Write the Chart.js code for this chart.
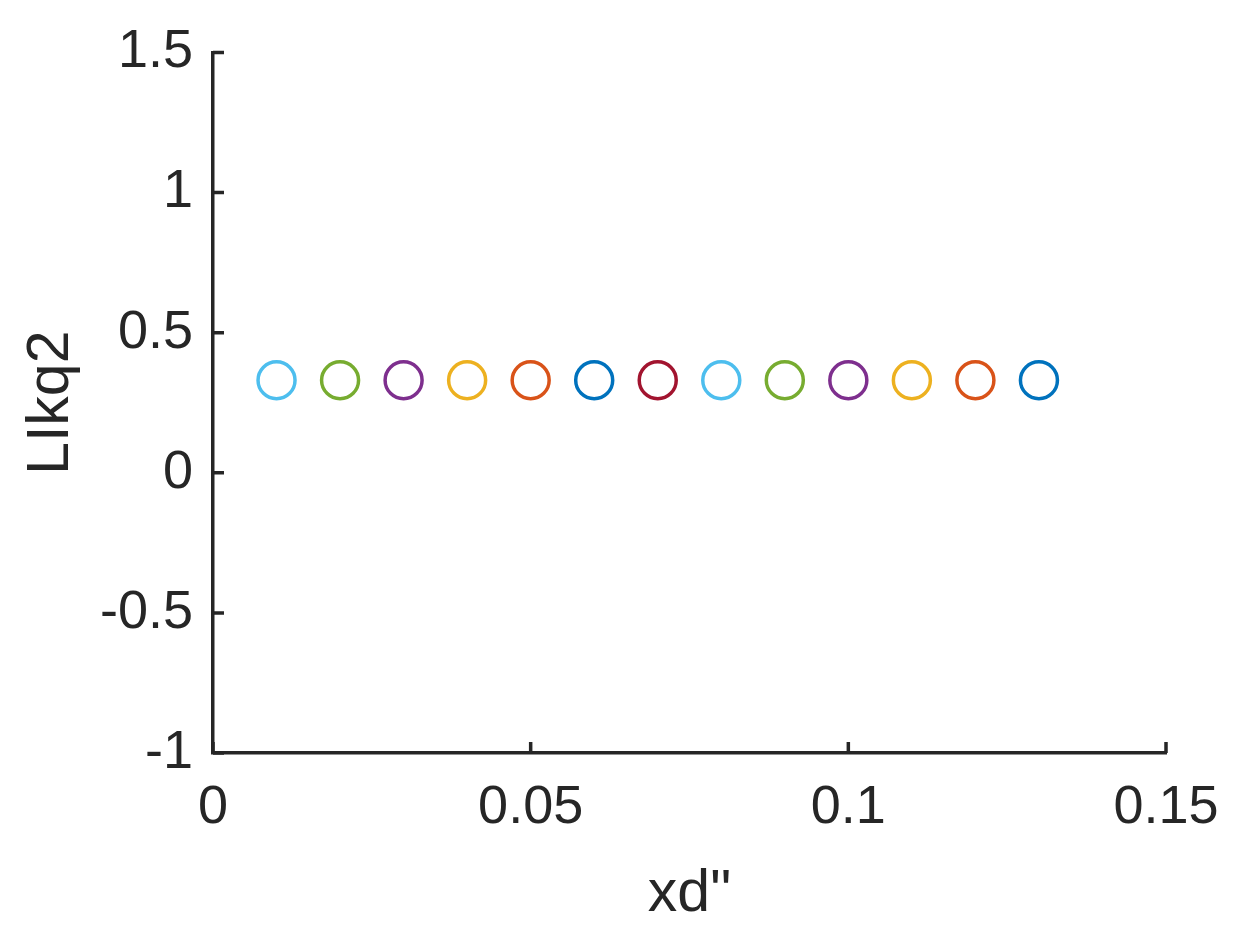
<!DOCTYPE html>
<html>
<head>
<meta charset="utf-8">
<script src="https://cdn.jsdelivr.net/npm/chart.js@4/dist/chart.umd.min.js"></script>
<style>
  html, body { margin: 0; padding: 0; background: #ffffff; }
  #wrap { width: 1248px; height: 943px; }
</style>
</head>
<body>
<div id="wrap"><canvas id="chart"></canvas></div>
<script>
'use strict'

const xdValues = [0.01, 0.02, 0.03, 0.04, 0.05, 0.06, 0.07, 0.08, 0.09, 0.1, 0.11, 0.12, 0.13]
const llkq2Values = [0.33, 0.33, 0.33, 0.33, 0.33, 0.33, 0.33, 0.33, 0.33, 0.33, 0.33, 0.33, 0.33]
const pointColors = [
  '#4DBEEE', '#77AC30', '#7E2F8E', '#EDB120', '#D95319', '#0072BD', '#A2142F',
  '#4DBEEE', '#77AC30', '#7E2F8E', '#EDB120', '#D95319', '#0072BD'
]
const xTicks = [0, 0.05, 0.1, 0.15]
const yTicks = [-1, -0.5, 0, 0.5, 1, 1.5]

const axisColor = '#262626'
const tickFont = { family: 'Liberation Sans, Arial, sans-serif', size: 54 }
const titleFont = { family: 'Liberation Sans, Arial, sans-serif', size: 59 }

// MATLAB style ticks point into the plot
const innerTicks = {
  id: 'innerTicks',
  afterDraw(chart) {
    const { ctx, chartArea, scales } = chart
    const len = 11
    ctx.save()
    ctx.strokeStyle = axisColor
    ctx.lineWidth = 3.5
    ctx.beginPath()
    scales.x.ticks.forEach((t) => {
      const px = scales.x.getPixelForValue(t.value)
      ctx.moveTo(px, chartArea.bottom)
      ctx.lineTo(px, chartArea.bottom - len)
    })
    scales.y.ticks.forEach((t) => {
      const py = scales.y.getPixelForValue(t.value)
      ctx.moveTo(chartArea.left, py)
      ctx.lineTo(chartArea.left + len, py)
    })
    ctx.stroke()
    ctx.restore()
  }
}

new Chart(document.getElementById('chart'), {
  type: 'scatter',
  data: {
    datasets: [{
      label: 'LIkq2',
      data: xdValues.map((x, i) => ({ x: x, y: llkq2Values[i] })),
      pointStyle: 'circle',
      pointRadius: 18.5,
      pointHoverRadius: 18.5,
      pointBorderWidth: 3.5,
      pointBorderColor: pointColors,
      pointBackgroundColor: 'rgba(0,0,0,0)',
      showLine: false
    }]
  },
  options: {
    responsive: true,
    maintainAspectRatio: false,
    animation: false,
    layout: {
      padding: { top: 50, right: 82, left: 0, bottom: 0 }
    },
    scales: {
      x: {
        type: 'linear',
        min: 0,
        max: 0.15,
        afterBuildTicks: (scale) => { scale.ticks = xTicks.map((v) => ({ value: v })) },
        afterFit: (scale) => { scale.height = 190 },
        grid: { display: false, drawTicks: false },
        border: { display: true, color: axisColor, width: 3.5 },
        ticks: {
          color: axisColor,
          font: tickFont,
          padding: 23,
          maxRotation: 0,
          minRotation: 0,
          callback: (v) => String(v)
        },
        title: {
          display: true,
          text: 'xd"',
          color: axisColor,
          font: titleFont,
          padding: { top: 0, bottom: 13 }
        }
      },
      y: {
        type: 'linear',
        min: -1,
        max: 1.5,
        afterBuildTicks: (scale) => { scale.ticks = yTicks.map((v) => ({ value: v })) },
        afterFit: (scale) => { scale.width = 213 },
        grid: { display: false, drawTicks: false },
        border: { display: true, color: axisColor, width: 3.5 },
        ticks: {
          color: axisColor,
          font: tickFont,
          padding: 20,
          callback: (v) => String(v)
        },
        title: {
          display: true,
          text: 'LIkq2',
          color: axisColor,
          font: titleFont,
          padding: { top: 16, bottom: 0 }
        }
      }
    },
    plugins: {
      legend: { display: false },
      tooltip: { enabled: false }
    }
  },
  plugins: [innerTicks]
})
</script>
</body>
</html>
